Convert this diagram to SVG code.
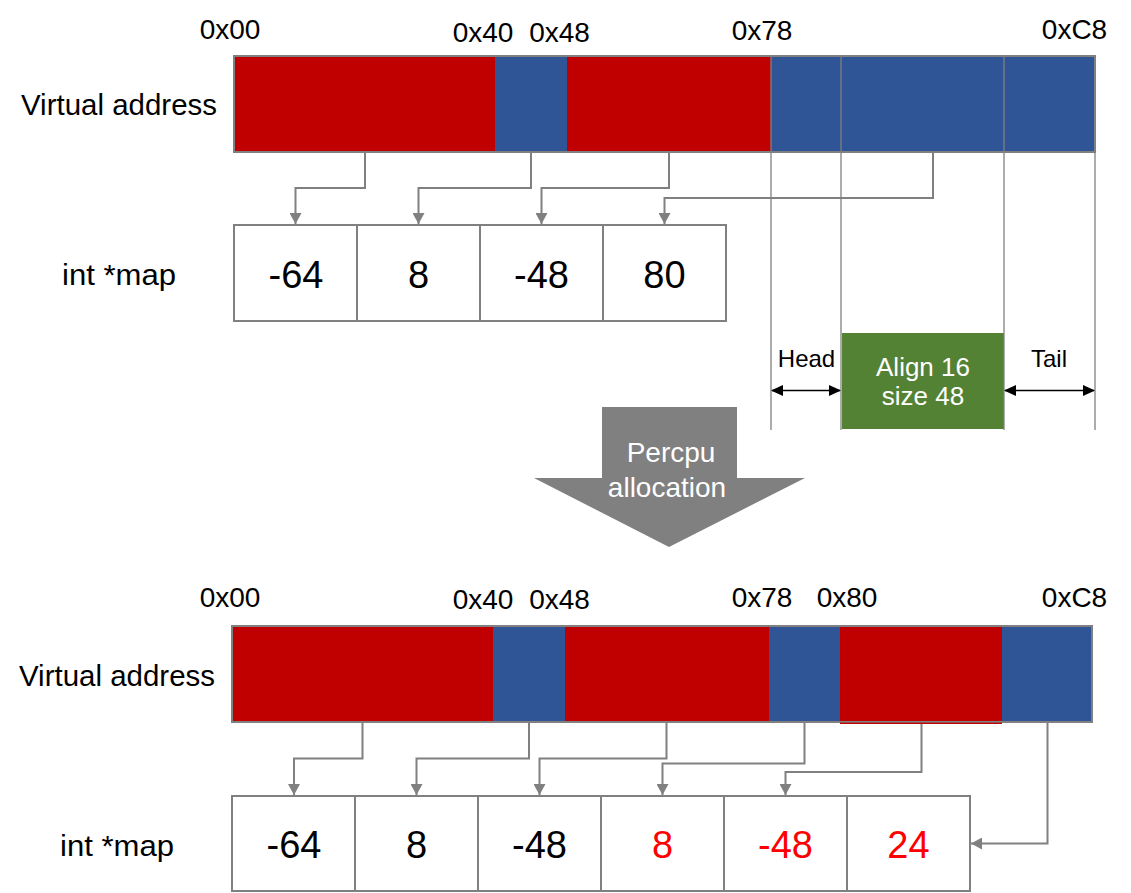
<svg xmlns="http://www.w3.org/2000/svg" width="1131" height="893" viewBox="0 0 1131 893">
<style>
text{font-family:"Liberation Sans",Arial,sans-serif;fill:#000}
.hex{font-size:28px;text-anchor:middle}
.lbl{font-size:29px}
.num{font-size:38px;text-anchor:middle}
.numr{font-size:38px;text-anchor:middle;fill:#FF0000}
.small{font-size:24px;text-anchor:middle}
.white{fill:#fff;text-anchor:middle}
.red{fill:#C00000}
.blue{fill:#2F5597}
.frame{fill:none;stroke:#808080;stroke-width:2}
.cell{fill:#fff;stroke:#808080;stroke-width:2}
.conn{fill:none;stroke:#808080;stroke-width:2;marker-end:url(#ga)}
.guide{stroke:#808080;stroke-width:1.3}
.dbl{stroke:#000;stroke-width:1.5;marker-start:url(#ba);marker-end:url(#ba)}
</style>
<defs>
<marker id="ga" markerUnits="userSpaceOnUse" markerWidth="12" markerHeight="12" refX="11" refY="6" orient="auto">
<path d="M0,0 L11,6 L0,12 z" fill="#808080"/>
</marker>
<marker id="ba" markerUnits="userSpaceOnUse" markerWidth="12" markerHeight="12" refX="11" refY="6" orient="auto-start-reverse">
<path d="M0,0.5 L12,6 L0,11.5 z" fill="#000"/>
</marker>
</defs>

<g id="top-labels">
<text class="hex" x="230" y="39">0x00</text>
<text class="hex" x="483" y="42">0x40</text>
<text class="hex" x="559.5" y="42">0x48</text>
<text class="hex" x="762" y="40">0x78</text>
<text class="hex" x="1074.5" y="39">0xC8</text>
<text class="lbl" x="21" y="115" textLength="196" lengthAdjust="spacingAndGlyphs">Virtual address</text>
<text class="lbl" x="62" y="285" textLength="114" lengthAdjust="spacingAndGlyphs">int *map</text>
</g>

<g id="top-vaddr">
<rect class="red" x="234" y="56" width="261" height="96"/>
<rect class="blue" x="495" y="56" width="72" height="96"/>
<rect class="red" x="567" y="56" width="204" height="96"/>
<rect class="blue" x="771" y="56" width="324" height="96"/>
<rect class="frame" x="234" y="56" width="861" height="96"/>
</g>

<g id="align-box">
<rect x="842" y="333" width="162" height="96" fill="#548235"/>
<text class="white" x="923" y="376" font-size="26">Align 16</text>
<text class="white" x="923" y="405" font-size="26">size 48</text>
</g>

<g id="guides">
<line class="guide" x1="771" y1="56" x2="771" y2="430"/>
<line class="guide" x1="841" y1="56" x2="841" y2="430"/>
<line class="guide" x1="1004" y1="56" x2="1004" y2="430"/>
<line class="guide" x1="1095" y1="152" x2="1095" y2="430"/>
</g>

<g id="head-tail">
<text class="small" x="806.5" y="367">Head</text>
<text class="small" x="1049" y="367">Tail</text>
<line class="dbl" x1="772" y1="390.5" x2="840" y2="390.5"/>
<line class="dbl" x1="1005" y1="390.5" x2="1094" y2="390.5"/>
</g>

<g id="top-map">
<rect class="cell" x="234" y="225" width="123" height="96"/>
<rect class="cell" x="357" y="225" width="123" height="96"/>
<rect class="cell" x="480" y="225" width="123" height="96"/>
<rect class="cell" x="603" y="225" width="123" height="96"/>
<text class="num" x="296" y="288">-64</text>
<text class="num" x="418.5" y="288">8</text>
<text class="num" x="541.5" y="288">-48</text>
<text class="num" x="664.5" y="288">80</text>
</g>

<g id="percpu-arrow">
<polygon points="602,407 737,407 737,478 805,478 669,547 534,478 602,478" fill="#808080"/>
<text class="white" x="671" y="462" font-size="28">Percpu</text>
<text class="white" x="667" y="497" font-size="28">allocation</text>
</g>

<g id="bottom-labels">
<text class="hex" x="230" y="607">0x00</text>
<text class="hex" x="483" y="609">0x40</text>
<text class="hex" x="559.5" y="609">0x48</text>
<text class="hex" x="762" y="607">0x78</text>
<text class="hex" x="847" y="607">0x80</text>
<text class="hex" x="1074.5" y="607">0xC8</text>
<text class="lbl" x="19" y="686" textLength="196" lengthAdjust="spacingAndGlyphs">Virtual address</text>
<text class="lbl" x="60" y="856" textLength="114" lengthAdjust="spacingAndGlyphs">int *map</text>
</g>

<g id="bottom-vaddr">
<rect class="red" x="232" y="626" width="261" height="96"/>
<rect class="blue" x="493" y="626" width="72" height="96"/>
<rect class="red" x="565" y="626" width="204" height="96"/>
<rect class="blue" x="769" y="626" width="71" height="96"/>
<rect class="red" x="840" y="626" width="162" height="96"/>
<rect class="blue" x="1002" y="626" width="90" height="96"/>
<rect class="frame" x="232" y="626" width="860" height="96"/>
<rect class="red" x="840" y="722.6" width="162" height="1.4"/>
</g>

<g id="bottom-map">
<rect class="cell" x="232" y="796" width="123" height="95"/>
<rect class="cell" x="355" y="796" width="123" height="95"/>
<rect class="cell" x="478" y="796" width="123" height="95"/>
<rect class="cell" x="601" y="796" width="123" height="95"/>
<rect class="cell" x="724" y="796" width="123" height="95"/>
<rect class="cell" x="847" y="796" width="123" height="95"/>
<text class="num" x="294" y="858">-64</text>
<text class="num" x="416.5" y="858">8</text>
<text class="num" x="539.5" y="858">-48</text>
<text class="numr" x="662.5" y="858">8</text>
<text class="numr" x="785.5" y="858">-48</text>
<text class="numr" x="908.5" y="858">24</text>
</g>

<g id="connectors">
<polyline class="conn" points="365,153 365,188 295.5,188 295.5,224"/>
<polyline class="conn" points="531,153 531,188 418.5,188 418.5,224"/>
<polyline class="conn" points="669,153 669,188 541.5,188 541.5,224"/>
<polyline class="conn" points="933,153 933,198 664.5,198 664.5,224"/>
<polyline class="conn" points="362.5,723 362.5,758.5 294,758.5 294,795"/>
<polyline class="conn" points="529,723 529,758.5 416.5,758.5 416.5,795"/>
<polyline class="conn" points="666.5,723 666.5,758.5 539.5,758.5 539.5,795"/>
<polyline class="conn" points="804.5,723 804.5,763.5 662.5,763.5 662.5,795"/>
<polyline class="conn" points="921.5,724 921.5,772 785.5,772 785.5,795"/>
<polyline class="conn" points="1047.5,723 1047.5,843.5 971,843.5"/>
</g>
</svg>
